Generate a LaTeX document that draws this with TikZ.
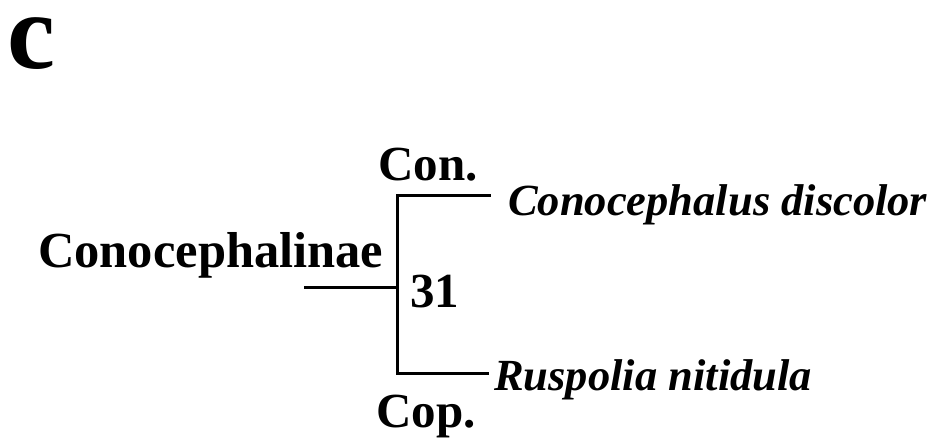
\documentclass[tikz,border=0pt]{standalone}
\usepackage{fontspec}
\setmainfont{Liberation Serif}
\begin{document}
\begin{tikzpicture}[x=1pt,y=-1pt,
  lbl/.style={anchor=base west,inner sep=0pt,font=\fontsize{49}{58}\selectfont\bfseries},
  taxon/.style={anchor=base west,inner sep=0pt,font=\fontsize{44.5}{53}\selectfont\bfseries\itshape},
  branch/.style={line width=3pt,line cap=rect}]
\useasboundingbox (0,0) rectangle (929,442);

% panel letter (box height trimmed to the x-height of the glyph)
\node[anchor=base west,inner sep=0pt,text height=52pt,text depth=2pt,
      font=\fontsize{108}{126}\selectfont\bfseries] (panel) at (7,68) {c};

% clade labels
\node[lbl,font=\fontsize{50.5}{60}\selectfont\bfseries] (clade) at (38,267) {Conocephalinae};
\node[lbl] (con) at (378,180) {Con.};
\node[lbl] (cop) at (376,427) {Cop.};
\node[lbl] (support) at (410,307) {31};

% tip labels
\node[taxon] (tipA) at (508,215) {Conocephalus discolor};
\node[taxon] (tipB) at (494,390) {Ruspolia nitidula};

% tree skeleton
\coordinate (root) at (305,287);
\coordinate (split) at (397,287);
\coordinate (upper) at (397,195);
\coordinate (lower) at (397,373);
\coordinate (endA) at (489,195);
\coordinate (endB) at (487,373);

\draw[branch] (root) -- (split);
\draw[branch] (upper) -- (lower);
\draw[branch] (upper) -- (endA);
\draw[branch] (lower) -- (endB);
\end{tikzpicture}
\end{document}
